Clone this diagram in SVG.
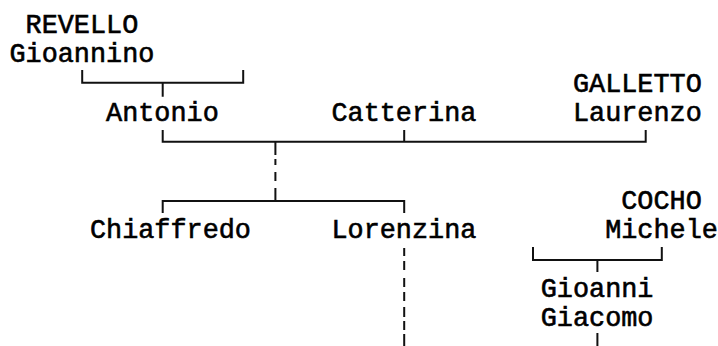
<svg xmlns="http://www.w3.org/2000/svg" width="718" height="346" viewBox="0 0 718 346">
<style>
  .t { font-family: "Liberation Mono", "DejaVu Sans Mono", monospace; font-size: 26.83px; fill: #000; stroke: #000; stroke-width: 0.6px; }
  .c { fill: none; stroke: #111; stroke-width: 2; stroke-linejoin: miter; stroke-linecap: butt; }
</style>
<rect width="718" height="346" fill="#fff"/>
<g id="connectors">
  <path class="c" d="M82.2,70 V82.7 H243.2 V70 M162.7,82.7 V96.7"/>
  <path class="c" d="M162.7,130 V141.7 H645.7 V130 M404.2,130 V141.7"/>
  <path class="c" d="M275.4,141.7 V155 M275.4,159 V165 M275.4,172 V181 M275.4,188 V201"/>
  <path class="c" d="M162.7,213 V201 H404.2 V213"/>
  <path class="c" d="M404.2,248 V256 M404.2,261 V270 M404.2,278 V287 M404.2,292 V301 M404.2,307 V317 M404.2,321 V330 M404.2,334 V346"/>
  <path class="c" d="M533,247 V260 H661.8 V247 M597.4,260 V272 M597.4,333 V346"/>
</g>
<g id="revello-gioannino">
  <text class="t" x="25.55" y="33">REVELLO</text>
  <text class="t" x="9.45" y="62.3">Gioannino</text>
</g>
<g id="antonio"><text class="t" x="106.05" y="120.9">Antonio</text></g>
<g id="catterina"><text class="t" x="331.45" y="120.9">Catterina</text></g>
<g id="galletto-laurenzo">
  <text class="t" x="572.95" y="91.6">GALLETTO</text>
  <text class="t" x="572.95" y="120.9">Laurenzo</text>
</g>
<g id="chiaffredo"><text class="t" x="89.95" y="238.1">Chiaffredo</text></g>
<g id="lorenzina"><text class="t" x="331.45" y="238.1">Lorenzina</text></g>
<g id="cocho-michele">
  <text class="t" x="621.25" y="208.8">COCHO</text>
  <text class="t" x="605.15" y="238.1">Michele</text>
</g>
<g id="gioanni-giacomo">
  <text class="t" x="540.75" y="297">Gioanni</text>
  <text class="t" x="540.75" y="326.2">Giacomo</text>
</g>
</svg>
